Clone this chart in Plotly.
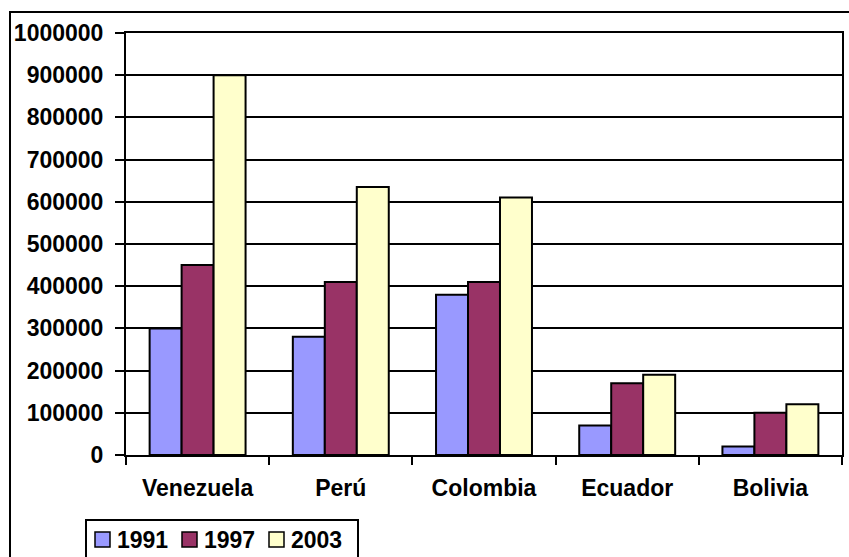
import plotly.graph_objects as go

# Categories and series values
countries = ["Venezuela", "Perú", "Colombia", "Ecuador", "Bolivia"]
years = ["1991", "1997", "2003"]
values_1991 = [300000, 280000, 380000, 70000, 20000]
values_1997 = [450000, 410000, 410000, 170000, 100000]
values_2003 = [900000, 635000, 610000, 190000, 120000]
y_ticks = [0, 100000, 200000, 300000, 400000, 500000, 600000, 700000, 800000, 900000, 1000000]

series = [values_1991, values_1997, values_2003]
colors = ["#9999FF", "#993366", "#FFFFCC"]

W, H = 849, 557
L, R, T, B = 126, 7, 33, 102
plot_w = W - L - R
plot_h = H - T - B


def px_x(x):
    return (x - L) / plot_w


def px_y(y):
    return (H - B - y) / plot_h


font = dict(family="Liberation Sans, Arial", size=23, color="black", weight="bold")

fig = go.Figure()
for name, vals, col in zip(years, series, colors):
    fig.add_trace(go.Bar(
        x=countries, y=vals, name=name, showlegend=False,
        marker=dict(color=col, line=dict(color="black", width=2)),
    ))

# Outer frame around the whole chart
shapes = [dict(
    type="rect", xref="paper", yref="paper",
    x0=px_x(10), x1=px_x(870), y0=px_y(600), y1=px_y(12),
    line=dict(color="black", width=2), fillcolor="rgba(0,0,0,0)",
    layer="above",
)]

# Legend box below the category labels, with one swatch + label per year
legend_left, legend_top, legend_right = 86, 520, 358
shapes.append(dict(
    type="rect", xref="paper", yref="paper",
    x0=px_x(legend_left), x1=px_x(legend_right),
    y0=px_y(600), y1=px_y(legend_top),
    line=dict(color="black", width=2), fillcolor="white", layer="above",
))
annotations = []
swatch_x0, item_step, swatch_size, row_center = 95, 87, 15, 539.5
for i, (name, col) in enumerate(zip(years, colors)):
    sx = swatch_x0 + i * item_step
    shapes.append(dict(
        type="rect", xref="paper", yref="paper",
        x0=px_x(sx), x1=px_x(sx + swatch_size),
        y0=px_y(row_center + swatch_size / 2), y1=px_y(row_center - swatch_size / 2),
        line=dict(color="black", width=1.5), fillcolor=col, layer="above",
    ))
    annotations.append(dict(
        xref="paper", yref="paper", x=px_x(sx + 20), y=px_y(row_center),
        xanchor="left", yanchor="middle", text=name, showarrow=False,
        font=font,
    ))

fig.update_layout(
    width=W, height=H,
    margin=dict(l=L, r=R, t=T, b=B, pad=0, autoexpand=False),
    paper_bgcolor="white", plot_bgcolor="white",
    font=font,
    barmode="group", bargap=0.33, bargroupgap=0,
    showlegend=False,
    xaxis=dict(
        type="category", tickson="boundaries",
        ticks="outside", ticklen=8, tickwidth=2, tickcolor="black",
        showline=True, linecolor="black", linewidth=2, mirror=True,
        showgrid=False, ticklabelstandoff=11,
    ),
    yaxis=dict(
        range=[0, 1000000], tickvals=y_ticks, tickformat="d",
        ticks="outside", ticklen=9, tickwidth=2, tickcolor="black",
        showline=True, linecolor="black", linewidth=2, mirror=True,
        showgrid=True, gridcolor="black", gridwidth=2,
        zeroline=False, ticklabelstandoff=7,
    ),
    shapes=shapes,
    annotations=annotations,
)

fig.write_html("out.html")
